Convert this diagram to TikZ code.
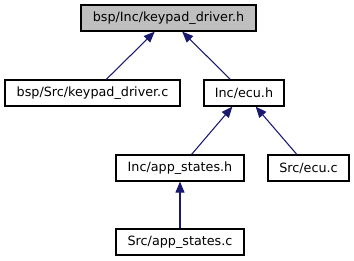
\documentclass[tikz,border=0pt]{standalone}
\usepackage{fontspec}
\setmainfont{DejaVu Sans}
\usetikzlibrary{arrows.meta}
\definecolor{edgeblue}{HTML}{191970}
\definecolor{focusgray}{HTML}{BFBFBF}
\begin{document}
\begin{tikzpicture}[x=0.75pt, y=-0.75pt,
  filebox/.style={draw=black, line width=0.9pt, fill=white, inner sep=0pt,
    minimum height=19.5pt, font=\fontsize{9.56pt}{11pt}\selectfont},
  focusbox/.style={filebox, fill=focusgray},
  incl/.style={draw=edgeblue, line width=0.8pt,
    -{Triangle[length=8.25pt, width=6.75pt]}}]
\useasboundingbox (0,0) rectangle (354,261);
% include-graph nodes (centres in pixel units)
\node[focusbox, minimum width=131.25pt] (kh)  at (168.5,18)  {bsp/Inc/keypad\_driver.h};
\node[filebox,  minimum width=131.25pt] (kc)  at (92.5,93)   {bsp/Src/keypad\_driver.c};
\node[filebox,  minimum width=60pt]     (eh)  at (244,93)    {Inc/ecu.h};
\node[filebox,  minimum width=96pt]     (ash) at (180,168)   {Inc/app\_states.h};
\node[filebox,  minimum width=60.75pt]  (ec)  at (308.5,168) {Src/ecu.c};
\node[filebox,  minimum width=96pt]     (asc) at (180,242)   {Src/app\_states.c};
% include dependencies
\draw[incl] (kc)  -- (kh);
\draw[incl] (eh)  -- (kh);
\draw[incl] (ash) -- (eh);
\draw[incl] (ec)  -- (eh);
\draw[incl] (asc) -- (ash);
\end{tikzpicture}
\end{document}
